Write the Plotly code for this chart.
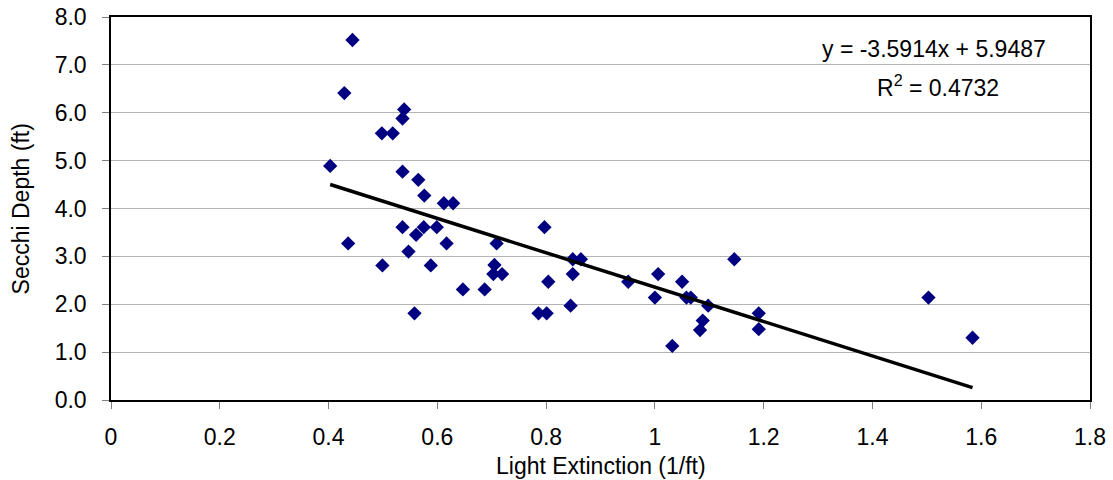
import plotly.graph_objects as go

# Data
light_extinction = [0.403, 0.429, 0.444, 0.436, 0.498, 0.518, 0.539, 0.536, 0.536, 0.565,
                    0.576, 0.612, 0.629, 0.536, 0.575, 0.599, 0.561, 0.617, 0.547, 0.499,
                    0.588, 0.558, 0.647, 0.687, 0.709, 0.705, 0.703, 0.719, 0.797, 0.804,
                    0.786, 0.801, 0.849, 0.864, 0.849, 0.845, 0.951, 1.006, 1.000, 1.050,
                    1.058, 1.066, 1.098, 1.088, 1.083, 1.032, 1.146, 1.191, 1.191, 1.503,
                    1.584]
secchi_depth = [4.89, 6.41, 7.52, 3.27, 5.57, 5.57, 6.07, 5.88, 4.77, 4.60,
                4.27, 4.11, 4.11, 3.61, 3.61, 3.61, 3.45, 3.27, 3.10, 2.81,
                2.81, 1.81, 2.31, 2.31, 3.27, 2.82, 2.63, 2.63, 3.61, 2.47,
                1.81, 1.81, 2.94, 2.94, 2.63, 1.97, 2.47, 2.63, 2.14, 2.47,
                2.14, 2.14, 1.97, 1.66, 1.46, 1.13, 2.94, 1.81, 1.48, 2.14,
                1.30]

slope = -3.5914
intercept = 5.9487
r_squared = 0.4732

x_title = "Light Extinction (1/ft)"
y_title = "Secchi Depth (ft)"
x_tick_vals = [0, 0.2, 0.4, 0.6, 0.8, 1.0, 1.2, 1.4, 1.6, 1.8]
x_tick_text = ["0", "0.2", "0.4", "0.6", "0.8", "1", "1.2", "1.4", "1.6", "1.8"]
y_tick_vals = [0, 1, 2, 3, 4, 5, 6, 7, 8]
y_tick_text = ["0.0", "1.0", "2.0", "3.0", "4.0", "5.0", "6.0", "7.0", "8.0"]

fit_x = [min(light_extinction), max(light_extinction)]
fit_y = [slope * v + intercept for v in fit_x]

FONT = "Arial, Liberation Sans, sans-serif"
FS = 23

fig = go.Figure()
fig.add_trace(go.Scatter(
    x=light_extinction, y=secchi_depth, mode="markers",
    marker=dict(symbol="diamond", size=11, color="#000080"),
    showlegend=False, hoverinfo="x+y"))
fig.add_trace(go.Scatter(
    x=fit_x, y=fit_y, mode="lines",
    line=dict(color="black", width=3.5),
    showlegend=False, hoverinfo="skip"))

fig.add_annotation(xref="paper", yref="paper", x=0.841, y=0.917,
                   text=f"y = {slope}x + {intercept}", showarrow=False,
                   font=dict(family=FONT, size=FS, color="black"),
                   xanchor="center", yanchor="middle")
fig.add_annotation(xref="paper", yref="paper", x=0.845, y=0.82,
                   text=f"R<sup>2</sup> = {r_squared}", showarrow=False,
                   font=dict(family=FONT, size=FS, color="black"),
                   xanchor="center", yanchor="middle")
# axis titles
fig.add_annotation(xref="paper", yref="paper", x=0.5, y=-0.133,
                   text=x_title, showarrow=False,
                   font=dict(family=FONT, size=FS, color="black"),
                   xanchor="center", yanchor="top")
fig.add_annotation(xref="paper", yref="paper", x=-0.092, y=0.5,
                   text=y_title, showarrow=False, textangle=-90,
                   font=dict(family=FONT, size=FS, color="black"),
                   xanchor="center", yanchor="middle")

fig.update_layout(
    width=1113, height=480,
    margin=dict(l=111, r=23, t=17, b=80, autoexpand=False),
    paper_bgcolor="white", plot_bgcolor="white",
    font=dict(family=FONT, size=FS, color="black"),
    xaxis=dict(
        range=[0, 1.8], tickvals=x_tick_vals, ticktext=x_tick_text,
        showgrid=False, zeroline=False,
        showline=True, linecolor="black", linewidth=1.5, mirror=True,
        ticks="outside", ticklen=7, tickcolor="#808080", tickwidth=1,
        ticklabelstandoff=9,
    ),
    yaxis=dict(
        range=[0, 8], tickvals=y_tick_vals, ticktext=y_tick_text,
        showgrid=True, gridcolor="#b4b4b4", gridwidth=1, zeroline=False,
        showline=True, linecolor="black", linewidth=1.5, mirror=True,
        ticks="outside", ticklen=7, tickcolor="#808080", tickwidth=1,
        ticklabelstandoff=11,
    ),
)

fig.write_html("out.html")
